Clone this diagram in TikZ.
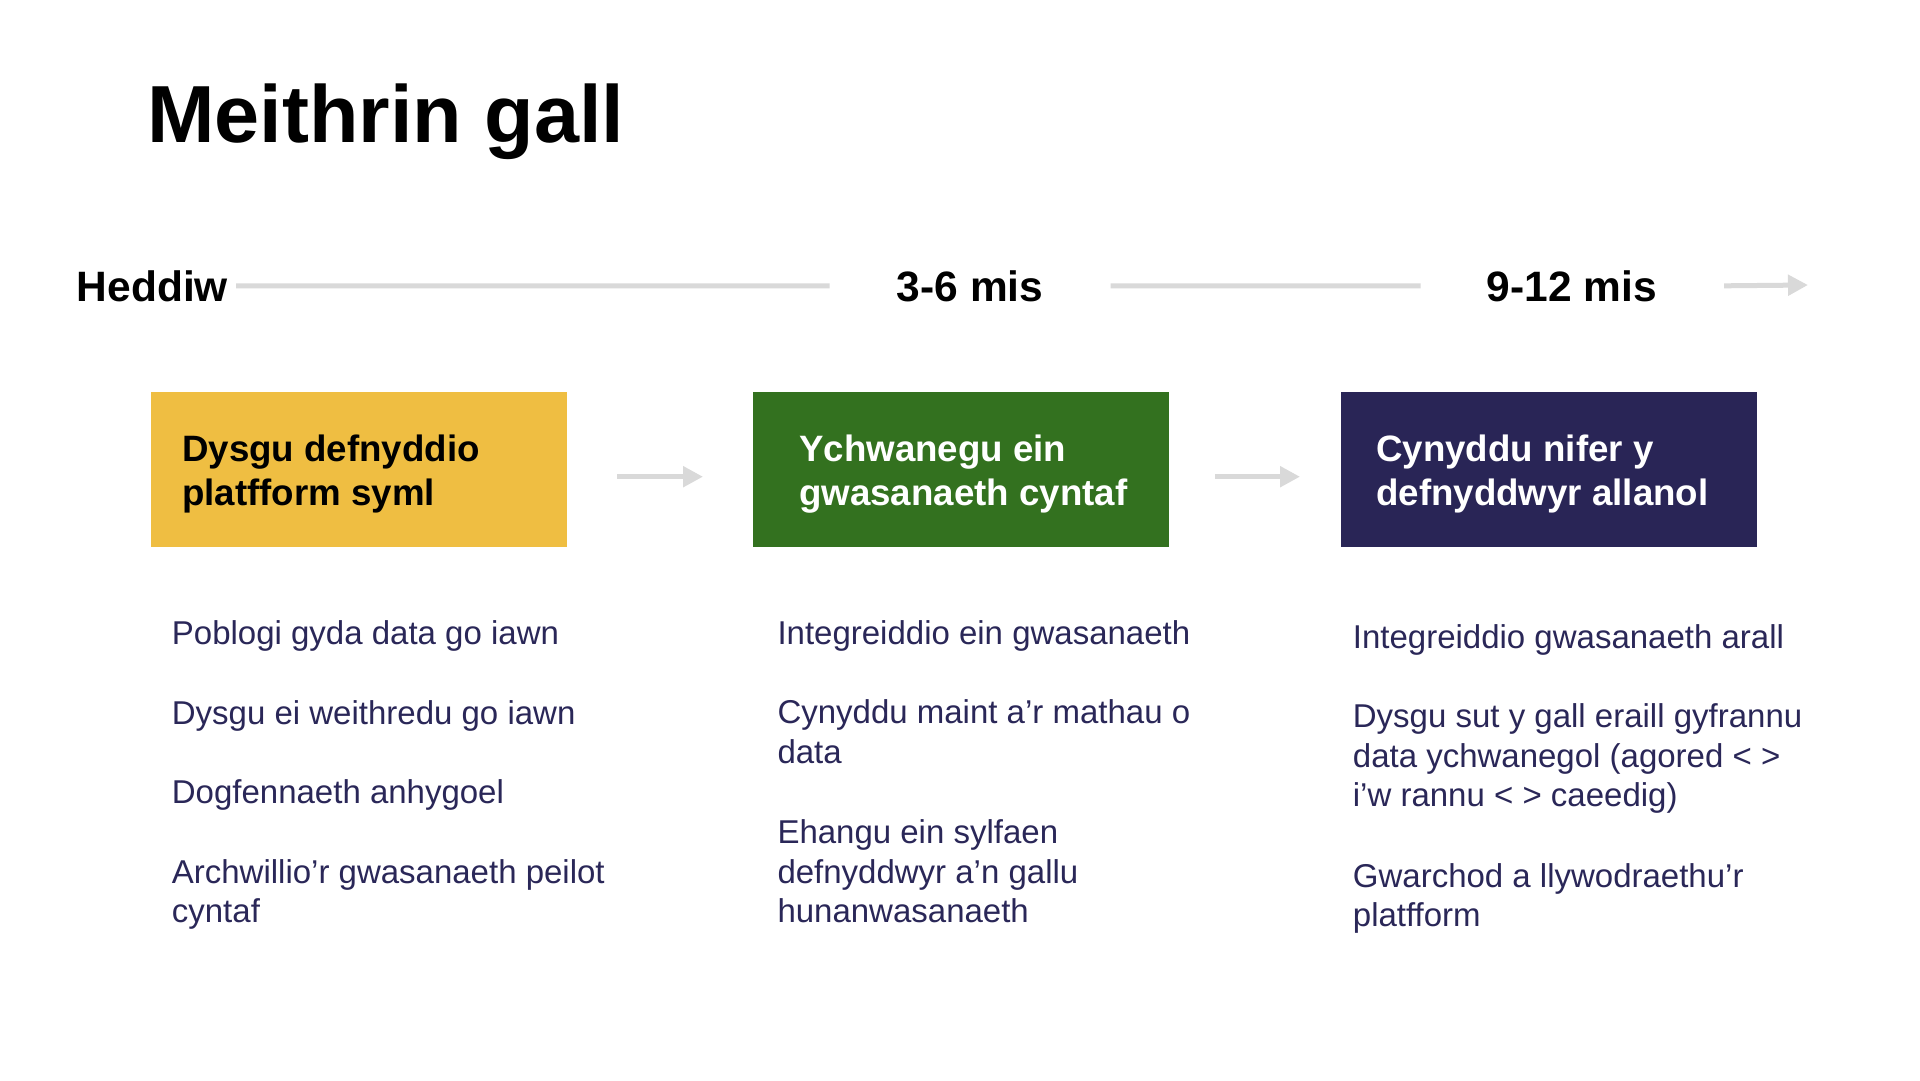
\documentclass[tikz,border=0pt]{standalone}
\usepackage{fontspec}
\setmainfont{Liberation Sans}
\usetikzlibrary{arrows.meta}
\definecolor{cyellow}{RGB}{239,190,66}
\definecolor{cgreen}{RGB}{51,113,31}
\definecolor{cnavy}{RGB}{41,37,86}
\definecolor{ctext}{RGB}{42,39,88}
\definecolor{cline}{RGB}{217,217,217}
\begin{document}
\begin{tikzpicture}[x=1pt,y=-1pt,
  titletext/.style={anchor=base west,inner sep=0,font=\fontsize{81}{97}\selectfont\bfseries},
  period/.style={anchor=base west,inner sep=0,font=\fontsize{42.5}{51}\selectfont\bfseries},
  phase/.style={anchor=north west,minimum width=416pt,minimum height=155pt,inner sep=0,draw=none},
  phasetext/.style={anchor=base west,inner sep=0,align=left,font=\fontsize{36.7}{44}\selectfont\bfseries},
  item/.style={anchor=base west,inner sep=0,align=left,text=ctext,font=\fontsize{33}{39.5}\selectfont},
  tline/.style={cline,line width=5pt},
  tarrow/.style={cline,line width=5pt,-{Triangle[length=20pt,width=20pt]}},
]
\useasboundingbox[fill=white] (0,0) rectangle (1920,1080);

% title
\node[titletext] (title) at (147,142.7) {Meithrin gall};

% timeline
\node[period] (heddiw) at (76.7,301) {Heddiw};
\node[period] (m36) at (896.7,301) {3-6 mis};
\node[period] (m912) at (1486.7,301) {9-12 mis};
\coordinate (tend) at (1808,285);
\draw[tline] ([xshift=8pt]heddiw.east) -- ([xshift=-67pt]m36.west);
\draw[tline] ([xshift=67pt]m36.east) -- ([xshift=-66pt]m912.west);
\draw[tarrow] ([xshift=67pt]m912.east) -- (tend);

% phase boxes
\node[phase,fill=cyellow] (b1) at (151,392) {};
\node[phase,fill=cgreen] (b2) at (753,392) {};
\node[phase,fill=cnavy] (b3) at (1341,392) {};
% multi-line nodes: the base anchor sits on the last line
\node[phasetext,text=black] (b1t) at (182,505) {Dysgu defnyddio\\platfform syml};
\node[phasetext,text=white] (b2t) at (799,505) {Ychwanegu ein\\gwasanaeth cyntaf};
\node[phasetext,text=white] (b3t) at (1376,505) {Cynyddu nifer y\\defnyddwyr allanol};

\draw[tarrow] ([xshift=50pt,yshift=-7pt]b1.east) -- ([xshift=-50pt,yshift=-7pt]b2.west);
\draw[tarrow] ([xshift=46pt,yshift=-7pt]b2.east) -- ([xshift=-41pt,yshift=-7pt]b3.west);

% column 1
\node[item] (c1a) at (171.7,644.3) {Poblogi gyda data go iawn};
\node[item] (c1b) at (171.7,724) {Dysgu ei weithredu go iawn};
\node[item] (c1c) at (171.7,803.7) {Dogfennaeth anhygoel};
\node[item] (c1d) at (171.7,922.7) {Archwillio’r gwasanaeth peilot\\cyntaf};

% column 2
\node[item] (c2a) at (777.3,644.3) {Integreiddio ein gwasanaeth};
\node[item] (c2b) at (777.3,763.3) {Cynyddu maint a’r mathau o\\data};
\node[item] (c2c) at (777.3,922.7) {Ehangu ein sylfaen\\defnyddwyr a’n gallu\\hunanwasanaeth};

% column 3
\node[item] (c3a) at (1352.7,648.3) {Integreiddio gwasanaeth arall};
\node[item] (c3b) at (1352.7,806.7) {Dysgu sut y gall eraill gyfrannu\\data ychwanegol (agored < >\\i’w rannu < > caeedig)};
\node[item] (c3c) at (1352.7,926.7) {Gwarchod a llywodraethu’r\\platfform};
\end{tikzpicture}
\end{document}
